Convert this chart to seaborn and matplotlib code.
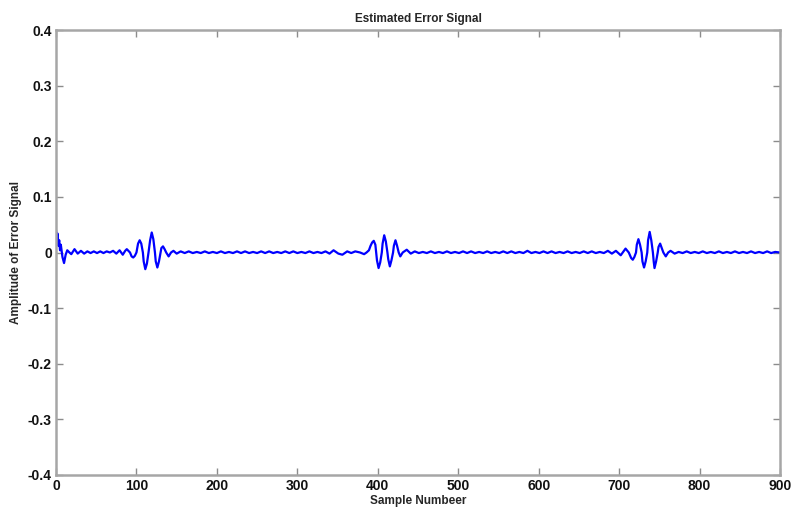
import matplotlib
matplotlib.use("Agg")
import matplotlib.pyplot as plt
import seaborn as sns
import pandas as pd

# ---- data (sample number, amplitude) ----
start_samples = [0, 1, 2, 3, 4, 5, 6, 8, 10, 12, 14, 16, 19, 23, 27, 31, 35, 39, 43, 47,
                 51, 55, 59, 63, 67, 71, 75, 79, 83, 86, 88]
start_amp = [0.040, 0.028, 0.034, 0.012, 0.022, 0.004, 0.014, -0.008, -0.019, -0.004,
             0.004, 0.001, -0.003, 0.006, -0.002, 0.003, -0.002, 0.002, -0.001, 0.002,
             -0.001, 0.002, -0.001, 0.002, 0.000, 0.003, -0.002, 0.004, -0.004, 0.003, 0.006]

burst1_samples = [92, 94, 96, 98, 100, 102, 104, 106, 108, 109, 111, 113, 115, 117,
                  119, 121, 123, 124, 126, 128, 130, 131, 133, 135, 137, 140, 143, 146, 150]
burst1_amp = [0.000, -0.007, -0.009, -0.006, 0.000, 0.016, 0.022, 0.016, 0.000, -0.016,
              -0.030, -0.020, 0.000, 0.022, 0.036, 0.024, 0.000, -0.016, -0.027, -0.016,
              0.000, 0.008, 0.011, 0.006, 0.000, -0.007, 0.000, 0.003, -0.002]

flat1_samples = [155, 160, 165, 170, 175, 180, 185, 190, 195, 200, 205, 210, 215, 220,
                 225, 230, 235, 240, 245, 250, 255, 260, 265, 270, 275, 280, 285, 290,
                 295, 300, 305, 310, 315, 320, 325, 330, 335, 340, 345, 351, 356, 362,
                 367, 372, 378, 383]
flat1_amp = [0.002, -0.001, 0.002, -0.001, 0.001, -0.001, 0.002, -0.001, 0.001, -0.001,
             0.002, -0.001, 0.001, -0.001, 0.002, -0.001, 0.002, -0.001, 0.001, -0.001,
             0.002, -0.001, 0.002, -0.001, 0.001, -0.001, 0.002, -0.001, 0.002, -0.001,
             0.001, -0.001, 0.002, -0.001, 0.001, -0.001, 0.002, -0.002, 0.004, -0.002,
             -0.004, 0.002, -0.001, 0.002, 0.000, -0.003]

burst2_samples = [386, 389, 391, 393, 395, 397, 398, 399, 401, 403, 405, 406, 408, 410,
                  412, 413, 415, 417, 419, 420, 422, 424, 426, 428, 431, 436, 441]
burst2_amp = [0.000, 0.004, 0.012, 0.018, 0.021, 0.014, 0.000, -0.014, -0.028, -0.018,
              0.000, 0.016, 0.031, 0.020, 0.000, -0.012, -0.025, -0.014, 0.000, 0.012,
              0.022, 0.012, 0.000, -0.007, 0.000, 0.005, -0.002]

flat2_samples = [446, 451, 456, 461, 466, 471, 476, 481, 486, 491, 496, 501, 506, 511,
                 516, 521, 526, 531, 536, 541, 546, 551, 556, 561, 566, 571, 576, 581,
                 586, 591, 596, 601, 606, 611, 616, 621, 626, 631, 636, 641, 646, 651,
                 656, 661, 666, 671, 676, 681, 686, 691, 696, 702, 708, 712]
flat2_amp = [0.002, -0.001, 0.001, -0.001, 0.002, -0.001, 0.001, -0.001, 0.002, -0.001,
             0.001, -0.001, 0.002, -0.001, 0.002, -0.001, 0.001, -0.001, 0.002, -0.001,
             0.001, -0.001, 0.002, -0.001, 0.002, -0.001, 0.001, -0.001, 0.003, -0.001,
             0.001, -0.001, 0.002, -0.001, 0.002, -0.001, 0.001, -0.001, 0.002, -0.001,
             0.001, -0.001, 0.002, -0.001, 0.002, -0.001, 0.001, -0.001, 0.003, -0.002,
             0.003, -0.005, 0.007, 0.000]

burst3_samples = [715, 717, 719, 721, 722, 724, 726, 728, 729, 731, 733, 735, 736, 738,
                  740, 742, 743, 744, 746, 748, 749, 751, 753, 755, 758, 761, 764]
burst3_amp = [-0.010, -0.013, -0.008, 0.000, 0.014, 0.024, 0.014, 0.000, -0.016, -0.027,
              -0.016, 0.000, 0.022, 0.037, 0.022, 0.000, -0.016, -0.028, -0.016, 0.000,
              0.010, 0.016, 0.008, 0.000, -0.007, 0.000, 0.003]

flat3_samples = [769, 774, 779, 784, 789, 794, 799, 804, 809, 814, 819, 824, 829, 834,
                 839, 844, 849, 854, 859, 864, 869, 874, 879, 884, 889, 894, 900]
flat3_amp = [-0.002, 0.001, -0.001, 0.002, -0.001, 0.001, -0.001, 0.002, -0.001, 0.001,
             -0.001, 0.002, -0.001, 0.001, -0.001, 0.002, -0.001, 0.001, -0.001, 0.002,
             -0.001, 0.001, -0.001, 0.002, -0.001, 0.001, 0.000]

x_ticks = [0, 100, 200, 300, 400, 500, 600, 700, 800, 900]
y_ticks = [-0.4, -0.3, -0.2, -0.1, 0, 0.1, 0.2, 0.3, 0.4]
y_tick_labels = ["-0.4", "-0.3", "-0.2", "-0.1", "0", "0.1", "0.2", "0.3", "0.4"]

samples = (start_samples + burst1_samples + flat1_samples + burst2_samples +
           flat2_samples + burst3_samples + flat3_samples)
amps = (start_amp + burst1_amp + flat1_amp + burst2_amp +
        flat2_amp + burst3_amp + flat3_amp)
df = pd.DataFrame({"sample": samples, "amplitude": amps})

sns.set_style("white")
plt.rcParams["font.family"] = ["Liberation Sans", "DejaVu Sans"]

fig = plt.figure(figsize=(7.95, 5.12), dpi=100)
ax = fig.add_axes([56 / 795, 1 - 475 / 512, (780 - 56) / 795, (475 - 30) / 512])

sns.lineplot(data=df, x="sample", y="amplitude", ax=ax, color="#0000ff",
             linewidth=1.6, estimator=None, sort=False)

ax.set_xlim(0, 900)
ax.set_ylim(-0.4, 0.4)
ax.set_xticks(x_ticks)
ax.set_xticklabels([str(t) for t in x_ticks])
ax.set_yticks(y_ticks)
ax.set_yticklabels(y_tick_labels)

for s in ax.spines.values():
    s.set_color("#a6a6a6")
    s.set_linewidth(1.8)
    s.set_visible(True)

ax.tick_params(axis="both", direction="in", length=5, width=1.0, color="#8c8c8c",
               labelsize=10, labelcolor="#111111", pad=3,
               top=True, right=True, bottom=True, left=True)
for lab in ax.get_xticklabels() + ax.get_yticklabels():
    lab.set_fontweight("bold")

ax.set_title("Estimated Error Signal", fontsize=8.5, fontweight="bold", pad=6)
ax.set_xlabel("Sample Numbeer", fontsize=8.5, fontweight="bold", labelpad=1)
ax.set_ylabel("Amplitude of Error Signal", fontsize=8.5, fontweight="bold", labelpad=4)

fig.savefig("out.png", dpi=100, facecolor="white")
